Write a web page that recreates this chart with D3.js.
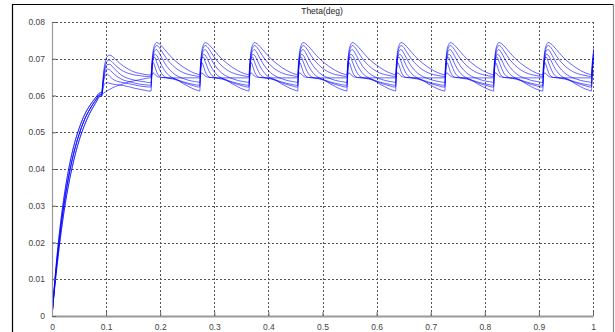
<!DOCTYPE html>
<html>
<head>
<meta charset="utf-8">
<script src="https://cdnjs.cloudflare.com/ajax/libs/d3/7.8.5/d3.min.js"></script>
<style>
  body { margin: 0; background: #fff; }
  svg { display: block; }
  text { font-family: "Liberation Sans", Arial, sans-serif; }
</style>
</head>
<body>
<svg id="chart" width="615" height="332"></svg>
<script>
// ---- data ----
const title = 'Theta(deg)';
const xTicks = [0, 0.1, 0.2, 0.3, 0.4, 0.5, 0.6, 0.7, 0.8, 0.9, 1];
const xTickLabels = ['0', '0.1', '0.2', '0.3', '0.4', '0.5', '0.6', '0.7', '0.8', '0.9', '1'];
const yTicks = [0, 0.01, 0.02, 0.03, 0.04, 0.05, 0.06, 0.07, 0.08];
const yTickLabels = ['0', '0.01', '0.02', '0.03', '0.04', '0.05', '0.06', '0.07', '0.08'];

// start-up rise (t = 0 .. 0.09)
const riseT = [0, 0.005, 0.01, 0.02, 0.03, 0.04, 0.05, 0.06, 0.07, 0.08, 0.09];
const riseFast = [0, 0.0093, 0.0174, 0.0300, 0.0393, 0.0461, 0.0510, 0.0547, 0.0573, 0.0593, 0.0608];
const riseMid  = [0, 0.0086, 0.0160, 0.0282, 0.0373, 0.0442, 0.0494, 0.0534, 0.0563, 0.0586, 0.0603];
const riseSlow = [0, 0.0078, 0.0146, 0.0262, 0.0352, 0.0422, 0.0477, 0.0519, 0.0552, 0.0578, 0.0599];

// disturbance instants
const spikeTimes = [0.092, 0.183, 0.273, 0.364, 0.454, 0.545, 0.635, 0.726, 0.816, 0.907, 0.997];

// time offsets inside one disturbance period
const cycleT = [0, 0.002, 0.004, 0.007, 0.01, 0.015, 0.02, 0.03, 0.04, 0.05, 0.06, 0.07, 0.08, 0.088];

// first period (after the rise), one row per run
const firstCycle = [
  [0.0608, 0.0640, 0.0670, 0.0695, 0.0706, 0.0710, 0.0706, 0.0692, 0.0680, 0.0671, 0.0664, 0.0660, 0.0657, 0.0656],
  [0.0603, 0.0635, 0.0662, 0.0684, 0.0694, 0.0696, 0.0690, 0.0676, 0.0666, 0.0660, 0.0656, 0.0654, 0.0652, 0.0652],
  [0.0608, 0.0632, 0.0655, 0.0676, 0.0684, 0.0685, 0.0678, 0.0663, 0.0652, 0.0646, 0.0642, 0.0639, 0.0637, 0.0635],
  [0.0599, 0.0626, 0.0648, 0.0666, 0.0672, 0.0670, 0.0662, 0.0650, 0.0642, 0.0638, 0.0634, 0.0631, 0.0629, 0.0628],
  [0.0603, 0.0626, 0.0643, 0.0656, 0.0658, 0.0652, 0.0645, 0.0638, 0.0635, 0.0632, 0.0629, 0.0626, 0.0624, 0.0623],
  [0.0599, 0.0616, 0.0628, 0.0634, 0.0635, 0.0633, 0.0631, 0.0629, 0.0627, 0.0624, 0.0620, 0.0617, 0.0614, 0.0612],
  [0.0603, 0.0605, 0.0607, 0.0610, 0.0613, 0.0617, 0.0621, 0.0627, 0.0632, 0.0637, 0.0640, 0.0643, 0.0646, 0.0648]
];

// repeating period (second period onward), one row per run
const steadyCycle = [
  [0.0656, 0.0695, 0.0722, 0.0738, 0.0744, 0.0741, 0.0734, 0.0717, 0.0701, 0.0688, 0.0677, 0.0668, 0.0661, 0.0657],
  [0.0652, 0.0690, 0.0715, 0.0730, 0.0736, 0.0731, 0.0720, 0.0698, 0.0682, 0.0670, 0.0662, 0.0657, 0.0654, 0.0652],
  [0.0635, 0.0680, 0.0706, 0.0722, 0.0725, 0.0716, 0.0702, 0.0678, 0.0662, 0.0652, 0.0646, 0.0641, 0.0638, 0.0636],
  [0.0628, 0.0675, 0.0700, 0.0712, 0.0710, 0.0697, 0.0681, 0.0659, 0.0648, 0.0642, 0.0637, 0.0633, 0.0630, 0.0628],
  [0.0623, 0.0680, 0.0702, 0.0704, 0.0693, 0.0674, 0.0659, 0.0648, 0.0645, 0.0641, 0.0635, 0.0630, 0.0626, 0.0623],
  [0.0612, 0.0670, 0.0690, 0.0680, 0.0666, 0.0653, 0.0649, 0.0648, 0.0647, 0.0641, 0.0632, 0.0624, 0.0617, 0.0613],
  [0.0648, 0.0658, 0.0662, 0.0658, 0.0653, 0.0650, 0.0649, 0.0648, 0.0648, 0.0648, 0.0648, 0.0648, 0.0648, 0.0648]
];

const runRise = [riseFast, riseMid, riseFast, riseSlow, riseMid, riseSlow, riseMid];

// ---- layout ----
const W = 615, H = 332;
const plot = { left: 52, right: 593, top: 22, bottom: 316 };

const svg = d3.select('#chart');

const x = d3.scaleLinear().domain([0, 1]).range([plot.left, plot.right]);
const y = d3.scaleLinear().domain([0, 0.08]).range([plot.bottom, plot.top]);

// outer frame
svg.append('line').attr('x1', 12.5).attr('x2', 12.5).attr('y1', 4.5).attr('y2', H)
  .attr('stroke', '#000').attr('stroke-width', 1.2);
svg.append('line').attr('x1', 12).attr('x2', 613.5).attr('y1', 4.5).attr('y2', 4.5)
  .attr('stroke', '#000').attr('stroke-width', 1.2);
svg.append('line').attr('x1', 613.5).attr('x2', 613.5).attr('y1', 4).attr('y2', H)
  .attr('stroke', '#8a8a8a').attr('stroke-width', 1.2);

// grid
const grid = svg.append('g').attr('stroke', '#555').attr('stroke-width', 1)
  .attr('stroke-dasharray', '2,2');
grid.selectAll('.gx').data(xTicks.slice(1)).join('line')
  .attr('x1', d => Math.round(x(d)) + 0.5).attr('x2', d => Math.round(x(d)) + 0.5)
  .attr('y1', plot.top).attr('y2', plot.bottom);
grid.selectAll('.gy').data(yTicks.slice(1)).join('line')
  .attr('x1', plot.left).attr('x2', plot.right)
  .attr('y1', d => Math.round(y(d)) + 0.5).attr('y2', d => Math.round(y(d)) + 0.5);

// data lines
svg.append('clipPath').attr('id', 'clip').append('rect')
  .attr('x', plot.left).attr('y', plot.top - 2)
  .attr('width', plot.right - plot.left + 1).attr('height', plot.bottom - plot.top + 2);

const runs = steadyCycle.map((steady, i) => {
  const pts = riseT.map((t, k) => [t, runRise[i][k]]);
  spikeTimes.forEach((s, j) => {
    const vals = j === 0 ? firstCycle[i] : steady;
    cycleT.forEach((dt, k) => pts.push([s + dt, vals[k]]));
  });
  return pts;
});

const line = d3.line()
  .x(d => x(d[0]))
  .y(d => y(d[1]))
  .curve(d3.curveMonotoneX);

svg.append('g').attr('clip-path', 'url(#clip)')
  .selectAll('path').data(runs).join('path')
  .attr('d', line)
  .attr('fill', 'none')
  .attr('stroke', '#0000ff')
  .attr('stroke-opacity', 0.8)
  .attr('stroke-width', 0.75);

// axes (MATLAB style: ticks inside)
const xAxis = d3.axisBottom(x).tickValues(xTicks)
  .tickFormat((d, i) => xTickLabels[i]).tickSizeInner(-4).tickSizeOuter(0).tickPadding(8);
const yAxis = d3.axisLeft(y).tickValues(yTicks)
  .tickFormat((d, i) => yTickLabels[i]).tickSizeInner(-4).tickSizeOuter(0).tickPadding(7);

const gx = svg.append('g').attr('transform', `translate(0,${plot.bottom})`).call(xAxis);
const gy = svg.append('g').attr('transform', `translate(${plot.left},0)`).call(yAxis);

gx.select('.domain').attr('stroke', '#999').attr('stroke-width', 2);
gy.select('.domain').attr('stroke', '#999').attr('stroke-width', 1.2);
svg.selectAll('.tick line').attr('stroke', '#666');
svg.selectAll('.tick text').attr('fill', '#444').attr('font-size', 8.5);

svg.append('text')
  .attr('x', 322).attr('y', 14)
  .attr('text-anchor', 'middle')
  .attr('font-size', 8.5)
  .attr('fill', '#222')
  .text(title);
</script>
</body>
</html>
